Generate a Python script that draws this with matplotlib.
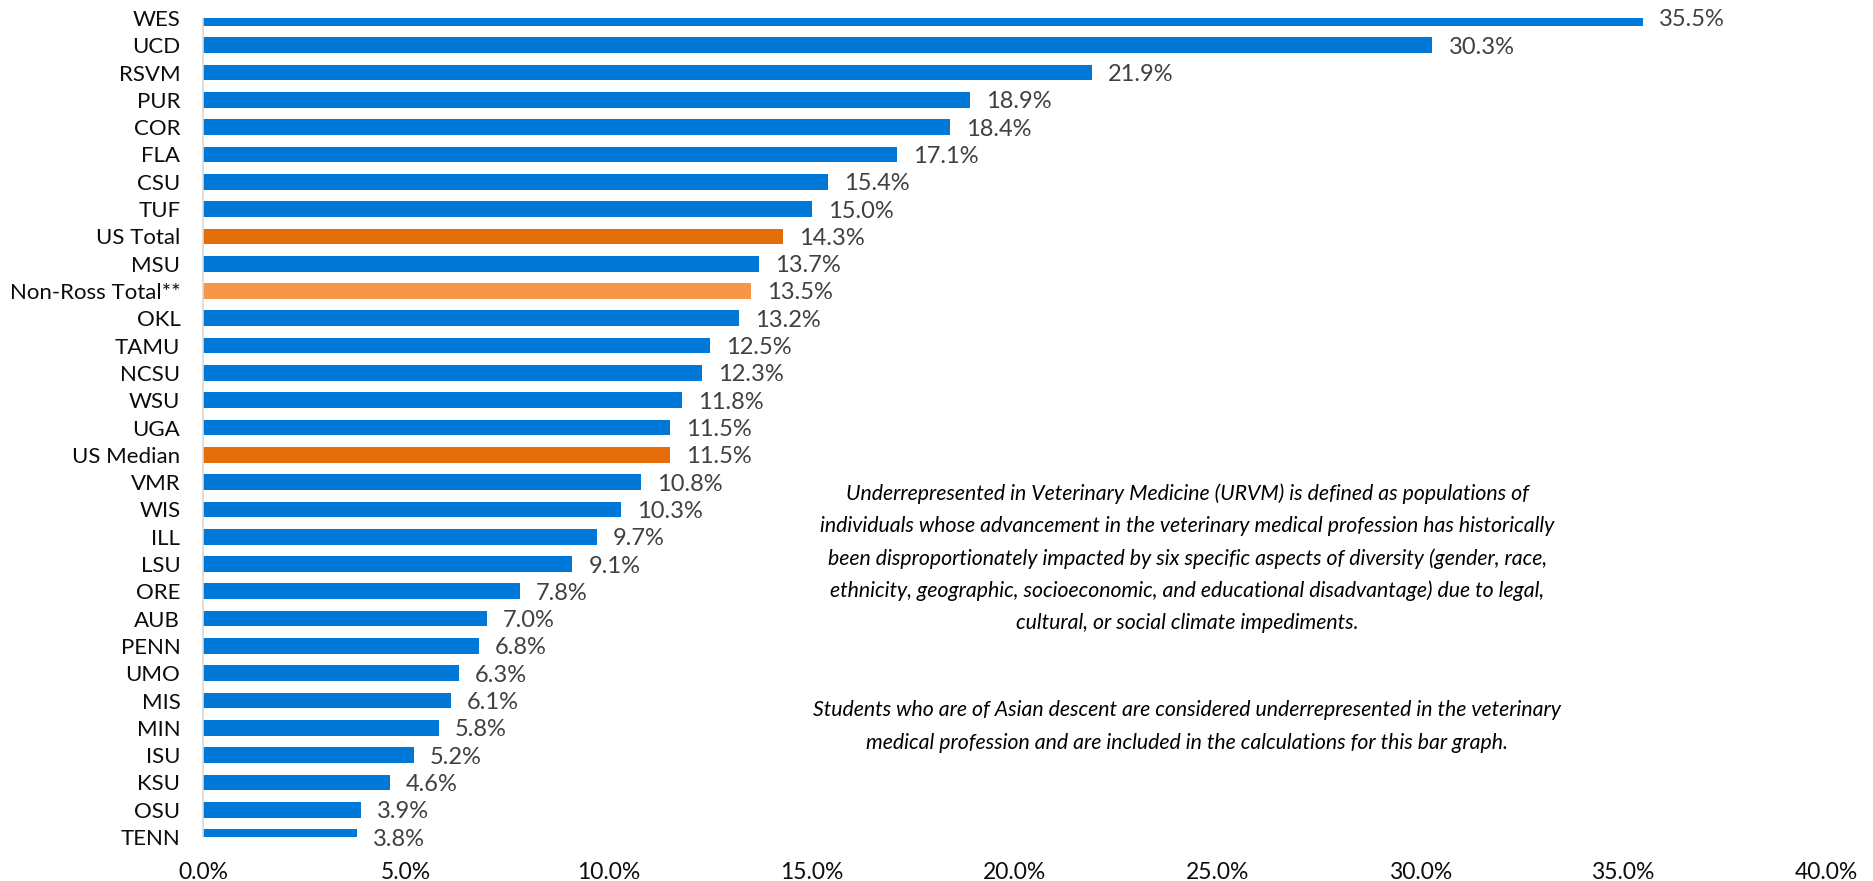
import matplotlib
matplotlib.use('Agg')
import matplotlib.pyplot as plt
from matplotlib.ticker import FuncFormatter

plt.rcParams['font.family'] = ['Lato', 'DejaVu Sans']

# data, top to bottom as in the chart
schools = ['WES', 'UCD', 'RSVM', 'PUR', 'COR', 'FLA', 'CSU', 'TUF', 'US Total', 'MSU',
           'Non-Ross Total**', 'OKL', 'TAMU', 'NCSU', 'WSU', 'UGA', 'US Median', 'VMR',
           'WIS', 'ILL', 'LSU', 'ORE', 'AUB', 'PENN', 'UMO', 'MIS', 'MIN', 'ISU', 'KSU',
           'OSU', 'TENN']
urvm_pct = [35.5, 30.3, 21.9, 18.9, 18.4, 17.1, 15.4, 15.0, 14.3, 13.7,
            13.5, 13.2, 12.5, 12.3, 11.8, 11.5, 11.5, 10.8,
            10.3, 9.7, 9.1, 7.8, 7.0, 6.8, 6.3, 6.1, 5.8, 5.2, 4.6,
            3.9, 3.8]

BLUE = '#0078D7'
DARK_ORANGE = '#E46C0A'
LIGHT_ORANGE = '#F79646'
special = {'US Total': DARK_ORANGE, 'US Median': DARK_ORANGE, 'Non-Ross Total**': LIGHT_ORANGE}

note_lines = [
    "Underrepresented in Veterinary Medicine (URVM) is defined as populations of",
    "individuals whose advancement in the veterinary medical profession has historically",
    "been disproportionately impacted by six specific aspects of diversity (gender, race,",
    "ethnicity, geographic, socioeconomic, and educational disadvantage) due to legal,",
    "cultural, or social climate impediments.",
    "",
    "Students who are of Asian descent are considered underrepresented in the veterinary",
    "medical profession and are included in the calculations for this bar graph.",
]

fig = plt.figure(figsize=(18.73, 8.81), dpi=100)
ax = fig.add_axes([0.1085, 0.0499, 0.8664, 0.9297])

n = len(schools)
ypos = [n - 1 - i for i in range(n)]
colors = [special.get(s, BLUE) for s in schools]
ax.barh(ypos, urvm_pct, height=0.575, color=colors)

for y, v in zip(ypos, urvm_pct):
    ax.annotate(f'{v:.1f}%', (v, y), xytext=(11.5, 0), textcoords='offset points',
                ha='left', va='center_baseline', fontsize=17, color='#404040',
                annotation_clip=False)

ax.set_xlim(0, 40)
ax.set_ylim(0, n - 1)
ax.set_xticks(range(0, 41, 5))
ax.xaxis.set_major_formatter(FuncFormatter(lambda x, p: f'{x:.1f}%'))
ax.set_yticks(ypos)
ax.set_yticklabels(schools)
ax.tick_params(axis='x', length=0, pad=18, labelsize=16.5, labelcolor='#0D0D0D')
ax.tick_params(axis='y', length=0, pad=16.5, labelsize=16, labelcolor='#0D0D0D')

for side in ['top', 'right', 'bottom']:
    ax.spines[side].set_visible(False)
ax.spines['left'].set_color('#D9D9D9')
ax.spines['left'].set_linewidth(1.2)

# note block, one line at a time (pixel rows of the line centres)
line_y = [492, 524.5, 557, 589, 621, None, 708, 741]
for txt, yy in zip(note_lines, line_y):
    if yy is None:
        continue
    fig.text(0.634, 1 - yy / 881, txt, ha='center', va='center_baseline', style='italic',
             fontsize=15.3, color='black')

fig.savefig('out.png', dpi=100)
